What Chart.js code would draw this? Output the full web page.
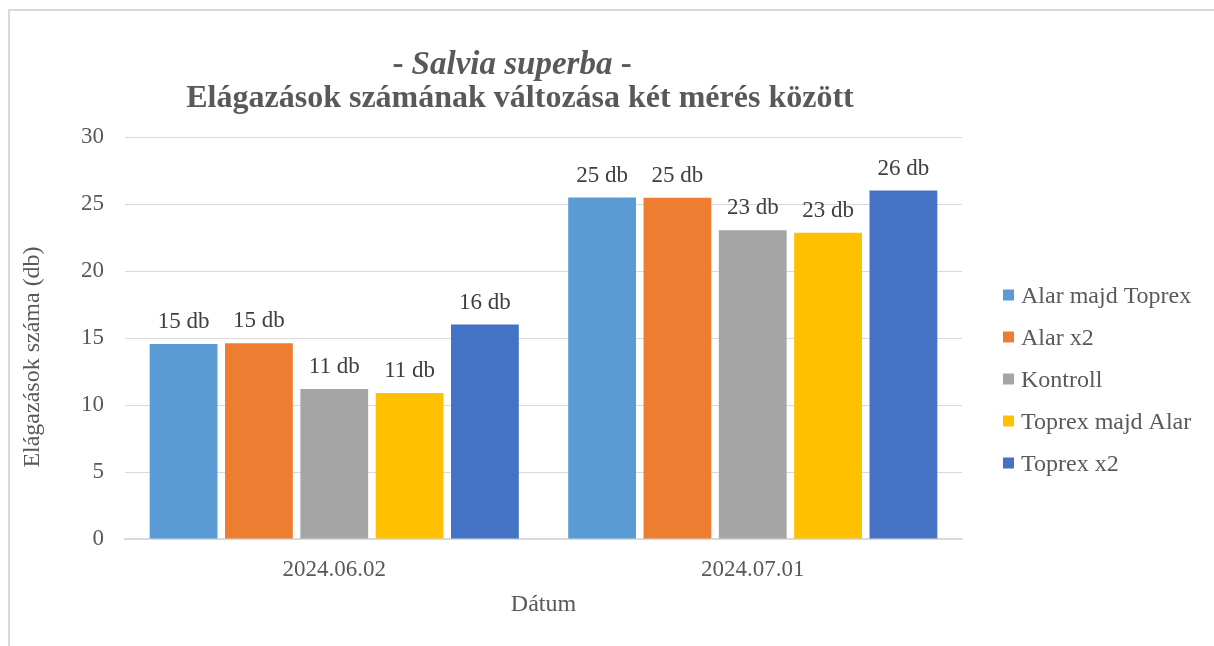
<!DOCTYPE html>
<html><head><meta charset="utf-8">
<script src="https://cdn.jsdelivr.net/npm/chart.js@4.4.1/dist/chart.umd.min.js"></script>
<style>html,body{margin:0;padding:0;background:#fff;} #wrap{width:1214px;height:646px;position:relative;}</style>
</head><body><div id="wrap"><canvas id="c" width="1214" height="646"></canvas></div>
<script>
const categories = ['2024.06.02', '2024.07.01'];
const seriesNames = ['Alar majd Toprex', 'Alar x2', 'Kontroll', 'Toprex majd Alar', 'Toprex x2'];
const alarMajdToprex = [14.55, 25.48];
const alarX2 = [14.6, 25.46];
const kontroll = [11.2, 23.05];
const toprexMajdAlar = [10.9, 22.85];
const toprexX2 = [16.0, 26.0];
const seriesColors = ['#5B9BD5', '#ED7D31', '#A5A5A5', '#FFC000', '#4472C4'];
const yTicks = [0, 5, 10, 15, 20, 25, 30];
const titleLine1 = ['- ', 'Salvia superba', ' -'];
const titleLine2 = 'Elágazások számának változása két mérés között';
const yTitle = 'Elágazások száma (db)';
const xTitle = 'Dátum';
const unit = 'db';

const seriesValues = [alarMajdToprex, alarX2, kontroll, toprexMajdAlar, toprexX2];
const FONT = '"Liberation Serif", "Times New Roman", serif';
const TEXT = '#595959';

const borderPlugin = {
  id: 'frame',
  beforeDraw(chart) {
    const c = chart.ctx;
    c.save();
    c.fillStyle = '#ffffff';
    c.fillRect(0, 0, chart.width, chart.height);
    c.strokeStyle = '#d9d9d9';
    c.lineWidth = 2;
    c.strokeRect(9, 10, 1400, 1000);
    c.restore();
  }
};

const labelPlugin = {
  id: 'dataLabels',
  afterDatasetsDraw(chart) {
    const c = chart.ctx;
    c.save();
    c.font = '23px ' + FONT;
    c.fillStyle = '#404040';
    c.textAlign = 'center';
    c.textBaseline = 'alphabetic';
    chart.data.datasets.forEach((ds, i) => {
      const meta = chart.getDatasetMeta(i);
      meta.data.forEach((bar, j) => {
        c.fillText(Math.round(ds.data[j]) + ' ' + unit, bar.x, bar.y - 16);
      });
    });
    c.restore();
  }
};

const titlePlugin = {
  id: 'richTitle',
  afterDraw(chart) {
    const c = chart.ctx;
    c.save();
    c.fillStyle = TEXT;
    c.textBaseline = 'alphabetic';
    c.textAlign = 'left';
    const fonts = ['bold 33px ' + FONT, 'italic bold 33px ' + FONT, 'bold 33px ' + FONT];
    let w = 0;
    const widths = titleLine1.map((t, i) => { c.font = fonts[i]; const m = c.measureText(t).width; w += m; return m; });
    let x = 512 - w / 2;
    titleLine1.forEach((t, i) => { c.font = fonts[i]; c.fillText(t, x, 74); x += widths[i]; });
    c.font = 'bold 32px ' + FONT;
    c.textAlign = 'center';
    c.fillText(titleLine2, 520, 107);
    // y axis title
    c.font = '24px ' + FONT;
    c.translate(33, 357);
    c.rotate(-Math.PI / 2);
    c.textBaseline = 'middle';
    c.fillText(yTitle, 0, 0);
    c.restore();
  }
};

const legendPlugin = {
  id: 'sideLegend',
  afterDraw(chart) {
    const c = chart.ctx;
    c.save();
    c.font = '24px ' + FONT;
    c.textBaseline = 'alphabetic';
    c.textAlign = 'left';
    chart.data.datasets.forEach((ds, i) => {
      const cy = 295 + i * 42;
      c.fillStyle = ds.backgroundColor;
      c.fillRect(1003, cy - 5.5, 11, 11);
      c.fillStyle = TEXT;
      c.fillText(ds.label, 1021, cy + 8);
    });
    c.restore();
  }
};

new Chart(document.getElementById('c'), {
  type: 'bar',
  data: {
    labels: categories,
    datasets: seriesValues.map((d, i) => ({
      label: seriesNames[i], data: d, backgroundColor: seriesColors[i], borderWidth: 0
    }))
  },
  options: {
    responsive: false,
    animation: false,
    layout: { padding: { top: 137, left: 0, right: 252, bottom: 0 } },
    datasets: { bar: { categoryPercentage: 0.9, barPercentage: 0.9 } },
    plugins: { legend: { display: false }, title: { display: false }, tooltip: { enabled: false } },
    scales: {
      x: {
        grid: { display: false, drawTicks: false },
        border: { display: true, color: '#d9d9d9', width: 2 },
        ticks: { font: { family: FONT, size: 23 }, color: TEXT, padding: 17 },
        title: { display: true, text: xTitle, font: { family: FONT, size: 24 }, color: TEXT, padding: { top: 0, bottom: 27 } },
        afterFit(s) { s.height = 107; }
      },
      y: {
        min: 0, max: 30,
        afterBuildTicks(s) { s.ticks = yTicks.map(v => ({ value: v })); },
        ticks: { font: { family: FONT, size: 23 }, color: TEXT, padding: 21 },
        grid: { color: '#d9d9d9', lineWidth: 1, drawTicks: false },
        border: { display: false },
        title: { display: false },
        afterFit(s) { s.width = 125; }
      }
    }
  },
  plugins: [borderPlugin, labelPlugin, titlePlugin, legendPlugin]
});
</script>
</body></html>
